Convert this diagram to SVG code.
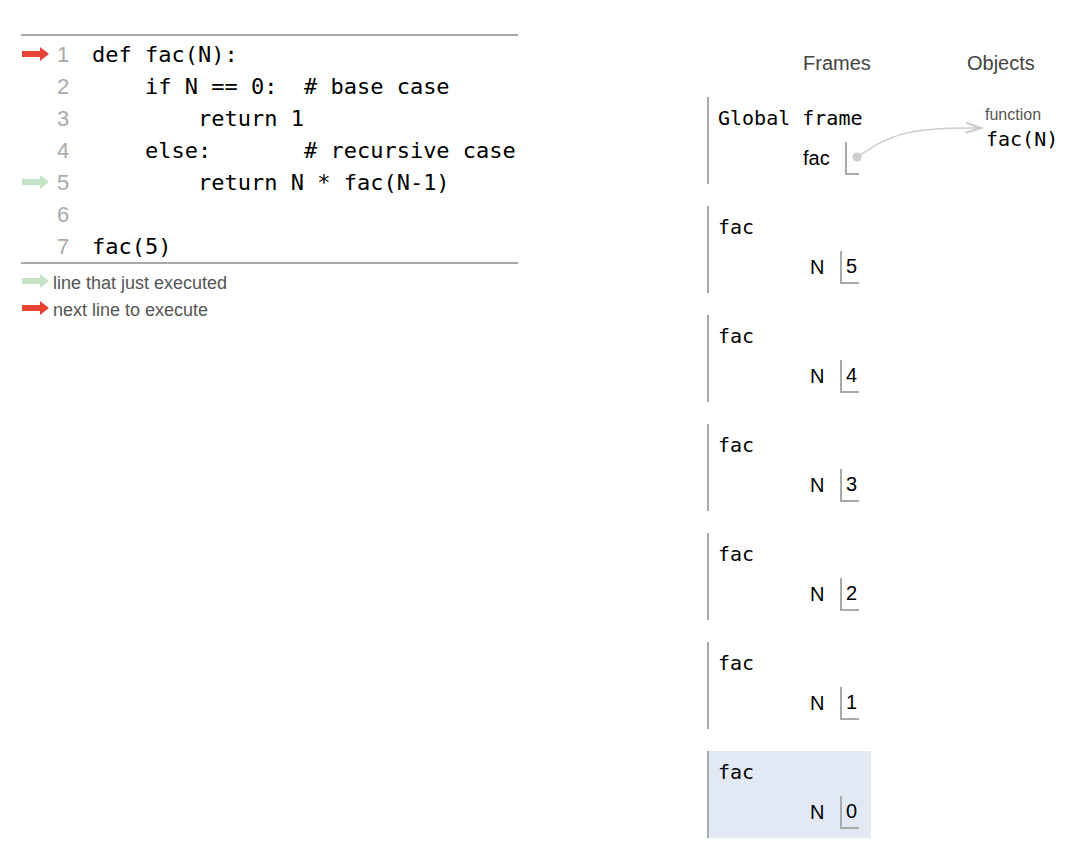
<svg xmlns="http://www.w3.org/2000/svg" width="1082" height="860" viewBox="0 0 1082 860">
<defs>
<style>
.code{font-family:"DejaVu Sans Mono",monospace;font-size:22px;fill:#000}
.ln{font-family:"Liberation Sans",sans-serif;font-size:22px;fill:#aaa}
.leg{font-family:"Liberation Sans",sans-serif;font-size:18px;fill:#555}
.hdr{font-family:"Liberation Sans",sans-serif;font-size:20px;fill:#444}
.mono{font-family:"DejaVu Sans Mono",monospace;font-size:20px;fill:#000}
.var{font-family:"Liberation Sans",sans-serif;font-size:20px;fill:#000}
.bar{stroke:#a4abb0;stroke-width:2}
.box{fill:none;stroke:#aaa;stroke-width:2}
.rule{stroke:#aaa;stroke-width:2}
</style>
<path id="arrow" d="M0,-3 H18 V-7 L27,0 L18,7 V3 H0 Z"/>
<marker id="ah" markerWidth="20" markerHeight="20" refX="16" refY="6" orient="auto" markerUnits="userSpaceOnUse">
<path d="M1,1 L16,6 L1,11" fill="none" stroke="#ccc" stroke-width="2"/>
</marker>
</defs>
<rect width="1082" height="860" fill="#fff"/>
<g id="code">
<line class="rule" x1="21" y1="35" x2="518" y2="35"/>
<line class="rule" x1="21" y1="263" x2="518" y2="263"/>
<use href="#arrow" x="22" y="54" fill="#e94235"/>
<use href="#arrow" x="22" y="182" fill="#c5e4c5"/>
<text class="ln" x="57" y="62">1</text>
<text class="ln" x="57" y="94">2</text>
<text class="ln" x="57" y="126">3</text>
<text class="ln" x="57" y="158">4</text>
<text class="ln" x="57" y="190">5</text>
<text class="ln" x="57" y="222">6</text>
<text class="ln" x="57" y="254">7</text>
<text class="code" x="92" y="62" xml:space="preserve">def fac(N):</text>
<text class="code" x="92" y="94" xml:space="preserve">    if N == 0:  # base case</text>
<text class="code" x="92" y="126" xml:space="preserve">        return 1</text>
<text class="code" x="92" y="158" xml:space="preserve">    else:       # recursive case</text>
<text class="code" x="92" y="190" xml:space="preserve">        return N * fac(N-1)</text>
<text class="code" x="92" y="254" xml:space="preserve">fac(5)</text>
</g>
<g id="legend">
<use href="#arrow" x="22" y="281" fill="#c5e4c5"/>
<text class="leg" x="53" y="289">line that just executed</text>
<use href="#arrow" x="22" y="308" fill="#e94235"/>
<text class="leg" x="53" y="316">next line to execute</text>
</g>
<text class="hdr" x="803" y="70">Frames</text>
<text class="hdr" x="967" y="70">Objects</text>
<g id="global-frame">
<line class="bar" x1="708" y1="97" x2="708" y2="184"/>
<text class="mono" x="718" y="125">Global frame</text>
<text class="var" x="803" y="165">fac</text>
<path class="box" d="M846,142 V174 H859"/>
</g>
<g id="func-obj">
<text x="985" y="120" font-family="Liberation Sans,sans-serif" font-size="16" fill="#555">function</text>
<text class="mono" x="986" y="146">fac(N)</text>
</g>
<g id="frame-5">
<line class="bar" x1="708" y1="206" x2="708" y2="293"/>
<text class="mono" x="718" y="234">fac</text>
<text class="var" x="810" y="274">N</text>
<path class="box" d="M841,251 V283 H859"/>
<text class="var" x="846" y="273">5</text>
</g>
<g id="frame-4">
<line class="bar" x1="708" y1="315" x2="708" y2="402"/>
<text class="mono" x="718" y="343">fac</text>
<text class="var" x="810" y="383">N</text>
<path class="box" d="M841,360 V392 H859"/>
<text class="var" x="846" y="382">4</text>
</g>
<g id="frame-3">
<line class="bar" x1="708" y1="424" x2="708" y2="511"/>
<text class="mono" x="718" y="452">fac</text>
<text class="var" x="810" y="492">N</text>
<path class="box" d="M841,469 V501 H859"/>
<text class="var" x="846" y="491">3</text>
</g>
<g id="frame-2">
<line class="bar" x1="708" y1="533" x2="708" y2="620"/>
<text class="mono" x="718" y="561">fac</text>
<text class="var" x="810" y="601">N</text>
<path class="box" d="M841,578 V610 H859"/>
<text class="var" x="846" y="600">2</text>
</g>
<g id="frame-1">
<line class="bar" x1="708" y1="642" x2="708" y2="729"/>
<text class="mono" x="718" y="670">fac</text>
<text class="var" x="810" y="710">N</text>
<path class="box" d="M841,687 V719 H859"/>
<text class="var" x="846" y="709">1</text>
</g>
<g id="frame-0">
<rect x="708" y="751" width="163" height="87" fill="#e2e9f4"/>
<line class="bar" x1="708" y1="751" x2="708" y2="838"/>
<text class="mono" x="718" y="779">fac</text>
<text class="var" x="810" y="819">N</text>
<path class="box" d="M841,796 V828 H859"/>
<text class="var" x="846" y="818">0</text>
</g>
<g id="connectors">
<circle cx="857" cy="157" r="4.5" fill="#ccc"/>
<path d="M857,157 C890,135 905,127 981,128" fill="none" stroke="#ccc" stroke-width="1.5" marker-end="url(#ah)"/>
</g>
</svg>
